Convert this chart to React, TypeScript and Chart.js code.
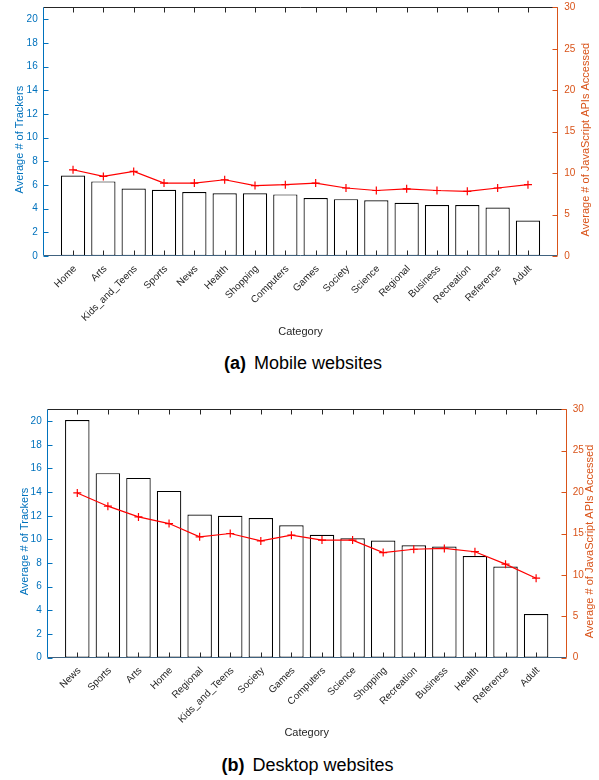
import React, { useEffect, useRef } from 'react';
import { Chart, registerables } from 'chart.js';

Chart.register(...registerables);

// ---------- data ----------
const mobileCategories = ['Home', 'Arts', 'Kids_and_Teens', 'Sports', 'News', 'Health', 'Shopping', 'Computers', 'Games', 'Society', 'Science', 'Regional', 'Business', 'Recreation', 'Reference', 'Adult'];
const mobileTrackers = [6.8, 6.3, 5.7, 5.6, 5.4, 5.3, 5.3, 5.2, 4.9, 4.8, 4.7, 4.5, 4.3, 4.3, 4.1, 3.0];
const mobileApis = [10.4, 9.6, 10.2, 8.8, 8.8, 9.2, 8.5, 8.6, 8.8, 8.2, 7.9, 8.1, 7.9, 7.8, 8.2, 8.6];

const desktopCategories = ['News', 'Sports', 'Arts', 'Home', 'Regional', 'Kids_and_Teens', 'Society', 'Games', 'Computers', 'Science', 'Shopping', 'Recreation', 'Business', 'Health', 'Reference', 'Adult'];
const desktopTrackers = [20.1, 15.6, 15.2, 14.1, 12.1, 12.0, 11.8, 11.2, 10.4, 10.1, 9.9, 9.5, 9.4, 8.6, 7.7, 3.7];
const desktopApis = [19.9, 18.3, 17.0, 16.2, 14.6, 15.0, 14.1, 14.8, 14.2, 14.2, 12.7, 13.1, 13.2, 12.8, 11.3, 9.6];

const trackerTicks = [0, 2, 4, 6, 8, 10, 12, 14, 16, 18, 20];
const apiTicks = [0, 5, 10, 15, 20, 25, 30];
const trackerMax = 21;
const apiMax = 30;

const leftTitle = 'Average # of Trackers';
const rightTitle = 'Average # of JavaScript APIs Accessed';
const xTitle = 'Category';

// ---------- styles ----------
const FONT = '"Liberation Sans", Arial, Helvetica, sans-serif';
const BLUE = '#0072BD';
const ORANGE = '#D95319';
const DARK = '#262626';
const BOTTOM_LINE = '#40627f';

const matlabAxes = {
  id: 'matlabAxes',
  afterDatasetsDraw(chart: any, _args: any, opts: any) {
    const { ctx, chartArea, scales } = chart;
    const L = Math.round(chartArea.left) + 0.5;
    const R = Math.round(chartArea.right) - 0.5;
    const T = Math.round(chartArea.top) + 0.5;
    const B = Math.round(chartArea.bottom) - 0.5;
    const tl = 5;
    ctx.save();
    ctx.lineWidth = 1;
    // x ticks (inward, top and bottom)
    ctx.strokeStyle = DARK;
    ctx.beginPath();
    for (let i = 1; i <= opts.count; i++) {
      const px = Math.round(scales.x.getPixelForValue(i)) + 0.5;
      ctx.moveTo(px, B);
      ctx.lineTo(px, B - tl);
      ctx.moveTo(px, T);
      ctx.lineTo(px, T + tl);
    }
    ctx.stroke();
    // top line
    ctx.beginPath();
    ctx.moveTo(L, T);
    ctx.lineTo(R, T);
    ctx.stroke();
    // bottom line
    ctx.strokeStyle = BOTTOM_LINE;
    ctx.beginPath();
    ctx.moveTo(L, B);
    ctx.lineTo(R, B);
    ctx.stroke();
    // left axis + ticks
    ctx.strokeStyle = BLUE;
    ctx.beginPath();
    ctx.moveTo(L, T);
    ctx.lineTo(L, B);
    for (const v of opts.leftTicks) {
      const py = Math.round(scales.y.getPixelForValue(v)) + 0.5;
      ctx.moveTo(L, py);
      ctx.lineTo(L + tl, py);
    }
    ctx.stroke();
    // right axis + ticks
    ctx.strokeStyle = ORANGE;
    ctx.beginPath();
    ctx.moveTo(R, T);
    ctx.lineTo(R, B);
    for (const v of opts.rightTicks) {
      const py = Math.round(scales.y1.getPixelForValue(v)) + 0.5;
      ctx.moveTo(R, py);
      ctx.lineTo(R - tl, py);
    }
    ctx.stroke();
    ctx.restore();
  },
  afterDraw(chart: any, _args: any, opts: any) {
    const { ctx, chartArea } = chart;
    ctx.save();
    ctx.font = `11px ${FONT}`;
    ctx.textAlign = 'center';
    ctx.textBaseline = 'middle';
    // x title
    ctx.fillStyle = DARK;
    ctx.fillText(opts.xTitle, (chartArea.left + chartArea.right) / 2, chartArea.bottom + opts.xTitleDy);
    const cy = (chartArea.top + chartArea.bottom) / 2 + opts.yTitleDy;
    // left title
    ctx.save();
    ctx.translate(opts.leftTitleX, cy);
    ctx.rotate(-Math.PI / 2);
    ctx.fillStyle = BLUE;
    ctx.fillText(opts.leftTitle, 0, 0);
    ctx.restore();
    // right title
    ctx.save();
    ctx.translate(opts.rightTitleX, cy);
    ctx.rotate(-Math.PI / 2);
    ctx.fillStyle = ORANGE;
    ctx.fillText(opts.rightTitle, 0, 0);
    ctx.restore();
    ctx.restore();
  },
};

type Cfg = {
  categories: string[];
  trackers: number[];
  apis: number[];
  top: number;
  height: number;
  plotTop: number;
  plotBottom: number;
  plotLeft: number;
  plotRight: number;
  leftTitleX: number;
  rightTitleX: number;
};

function DualAxisChart({ cfg }: { cfg: Cfg }) {
  const ref = useRef<HTMLCanvasElement>(null);
  useEffect(() => {
    const labels = ['', ...cfg.categories, ''];
    const pad = (arr: number[]) => [null, ...arr, null];
    const tickFont = { family: FONT, size: 10 };
    const chart = new Chart(ref.current as HTMLCanvasElement, {
      type: 'bar',
      data: {
        labels,
        datasets: [
          {
            type: 'line',
            data: pad(cfg.apis) as any,
            yAxisID: 'y1',
            borderColor: '#FF0000',
            backgroundColor: '#FF0000',
            borderWidth: 1.2,
            pointStyle: 'cross',
            pointRadius: 4,
            pointBorderColor: '#FF0000',
            pointBorderWidth: 1.2,
            fill: false,
            tension: 0,
            order: 0,
          } as any,
          {
            type: 'bar',
            data: pad(cfg.trackers) as any,
            yAxisID: 'y',
            backgroundColor: '#FFFFFF',
            borderColor: '#000000',
            borderWidth: 1.2,
            borderSkipped: false,
            barPercentage: 0.8,
            categoryPercentage: 1,
            order: 1,
          } as any,
        ],
      },
      options: {
        animation: false,
        responsive: false,
        maintainAspectRatio: false,
        layout: { padding: { top: cfg.plotTop - cfg.top, left: 0, right: 0, bottom: 0 } },
        plugins: {
          legend: { display: false },
          tooltip: { enabled: false },
          matlabAxes: {
            count: cfg.categories.length,
            leftTicks: trackerTicks,
            rightTicks: apiTicks,
            xTitle,
            leftTitle,
            rightTitle,
            xTitleDy: 75.7,
            yTitleDy: 8,
            leftTitleX: cfg.leftTitleX,
            rightTitleX: cfg.rightTitleX,
          },
        } as any,
        scales: {
          x: {
            type: 'category',
            offset: false,
            grid: { display: false, drawTicks: false },
            border: { display: false },
            ticks: {
              autoSkip: false,
              maxRotation: 45,
              minRotation: 45,
              padding: 7,
              labelOffset: 2,
              color: DARK,
              font: tickFont,
            },
            afterFit: (s: any) => {
              s.height = cfg.top + cfg.height - cfg.plotBottom;
              s.paddingLeft = 0;
              s.paddingRight = 0;
            },
          },
          y: {
            type: 'linear',
            position: 'left',
            min: 0,
            max: trackerMax,
            grid: { display: false, drawTicks: false },
            border: { display: false },
            ticks: { color: BLUE, padding: 5, font: tickFont },
            afterBuildTicks: (s: any) => {
              s.ticks = trackerTicks.map((v) => ({ value: v }));
            },
            afterFit: (s: any) => {
              s.width = cfg.plotLeft;
              s.paddingTop = 0;
              s.paddingBottom = 0;
            },
          },
          y1: {
            type: 'linear',
            position: 'right',
            min: 0,
            max: apiMax,
            grid: { display: false, drawTicks: false },
            border: { display: false },
            ticks: { color: ORANGE, padding: 6, font: tickFont },
            afterBuildTicks: (s: any) => {
              s.ticks = apiTicks.map((v) => ({ value: v }));
            },
            afterFit: (s: any) => {
              s.width = 599 - cfg.plotRight;
              s.paddingTop = 0;
              s.paddingBottom = 0;
            },
          },
        },
      } as any,
      plugins: [matlabAxes as any],
    });
    return () => chart.destroy();
  }, [cfg]);
  return (
    <canvas
      ref={ref}
      width={599}
      height={cfg.height}
      style={{ position: 'absolute', left: 0, top: cfg.top, width: 599, height: cfg.height }}
    />
  );
}

const mobileCfg: Cfg = {
  categories: mobileCategories,
  trackers: mobileTrackers,
  apis: mobileApis,
  top: 0,
  height: 345,
  plotTop: 7.3,
  plotBottom: 256,
  plotLeft: 42.7,
  plotRight: 558.3,
  leftTitleX: 20,
  rightTitleX: 585.5,
};

const desktopCfg: Cfg = {
  categories: desktopCategories,
  trackers: desktopTrackers,
  apis: desktopApis,
  top: 400,
  height: 345,
  plotTop: 409.3,
  plotBottom: 657.7,
  plotLeft: 46.7,
  plotRight: 566.7,
  leftTitleX: 24.8,
  rightTitleX: 590,
};

const captionStyle = (top: number, width: number): React.CSSProperties => ({
  position: 'absolute',
  left: 0,
  top,
  width,
  textAlign: 'center',
  fontFamily: FONT,
  fontSize: 18,
  lineHeight: '20px',
  color: '#000',
  whiteSpace: 'nowrap',
});

export default function App() {
  return (
    <div style={{ position: 'absolute', left: 0, top: 0, width: 599, height: 780, background: '#fff', overflow: 'hidden' }}>
      <DualAxisChart cfg={mobileCfg} />
      <div style={captionStyle(353, 606)}>
        <b style={{ marginRight: 3 }}>(a)</b> Mobile websites
      </div>
      <DualAxisChart cfg={desktopCfg} />
      <div style={captionStyle(755, 615)}>
        <b style={{ marginRight: 3 }}>(b)</b> Desktop websites
      </div>
    </div>
  );
}
